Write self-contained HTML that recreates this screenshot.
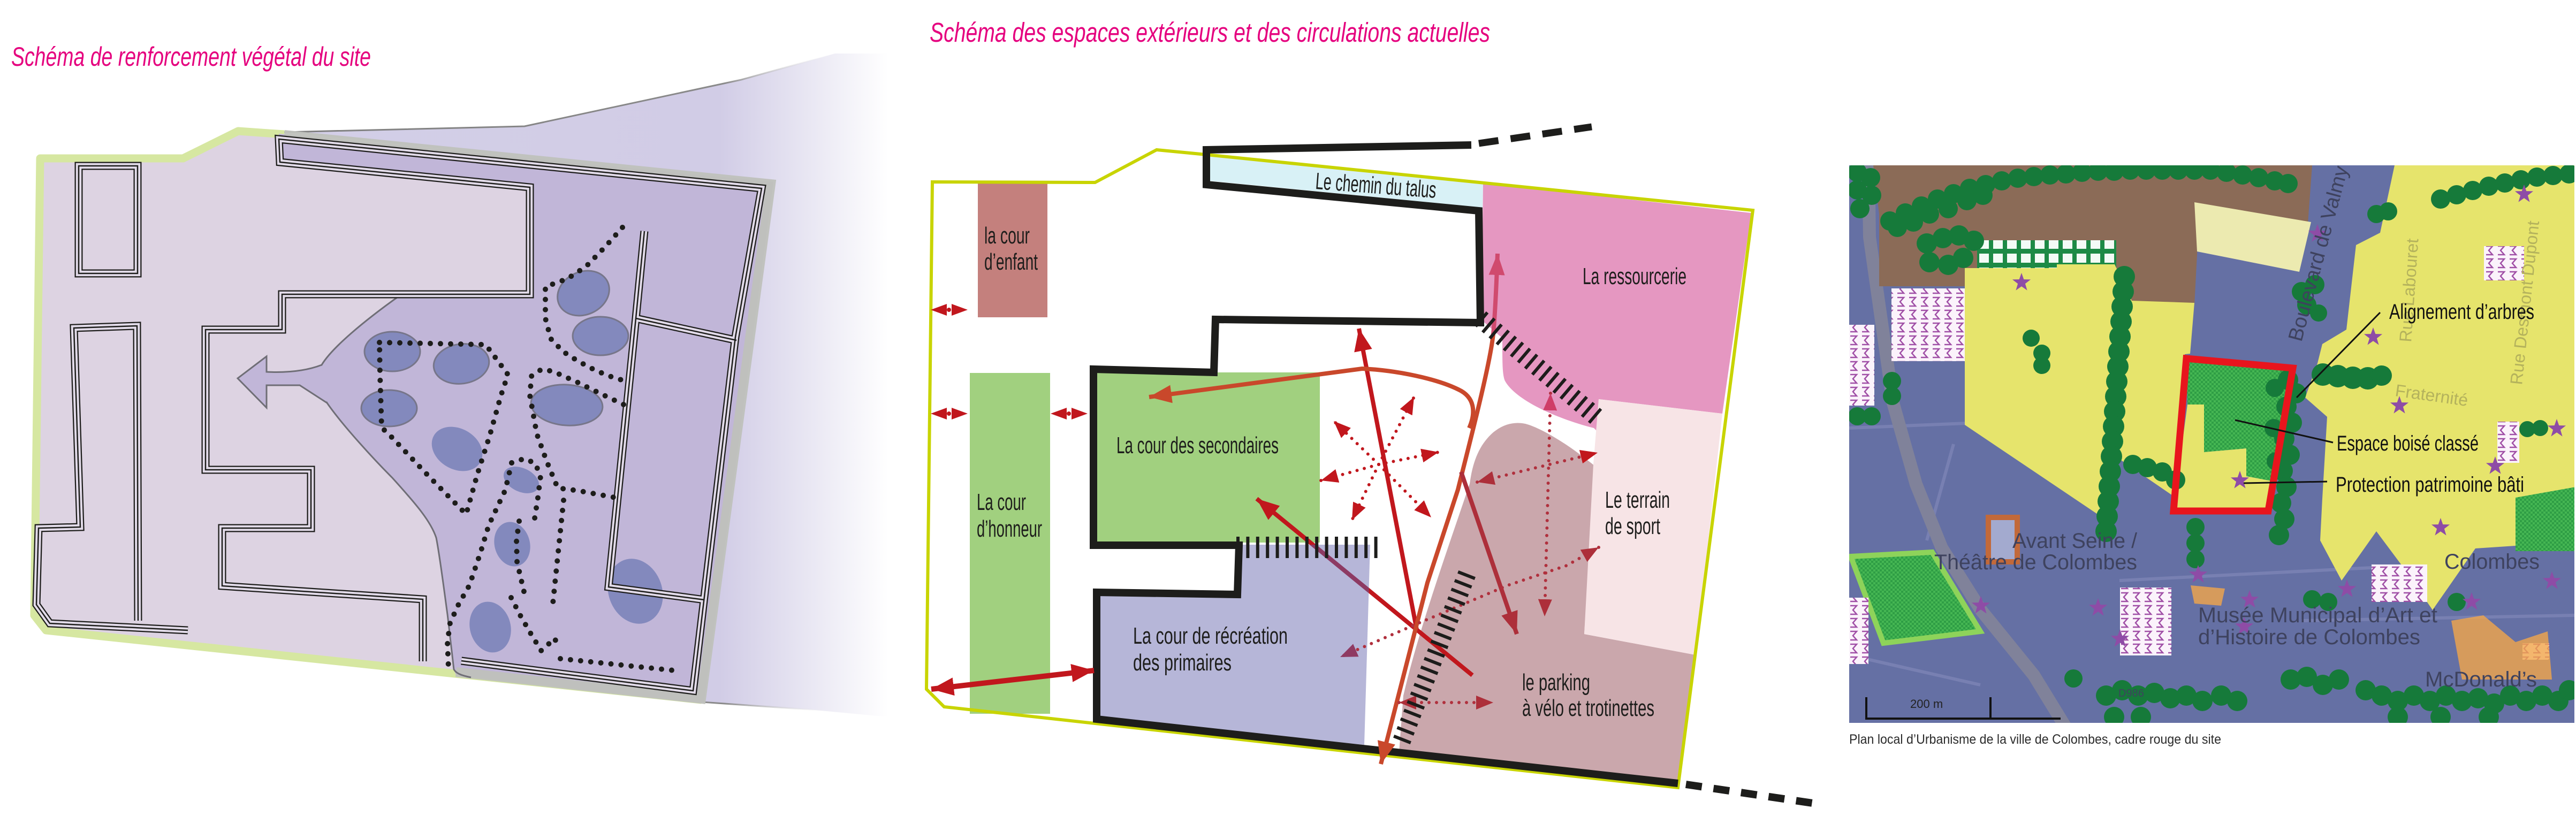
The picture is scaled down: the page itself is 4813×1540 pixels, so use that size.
<!DOCTYPE html>
<html><head><meta charset="utf-8"><style>
html,body{margin:0;padding:0;background:#fff;}
body{width:4813px;height:1540px;overflow:hidden;}
svg{display:block;}
</style></head><body>
<svg xmlns="http://www.w3.org/2000/svg" xmlns:xlink="http://www.w3.org/1999/xlink" width="4813" height="1540" viewBox="0 0 4813 1540">
<defs>
<linearGradient id="fade" gradientUnits="userSpaceOnUse" x1="531" y1="0" x2="1660" y2="0">
<stop offset="0" stop-color="#d3cfe7"/><stop offset="0.72" stop-color="#d1cce6"/><stop offset="0.87" stop-color="#e9e7f3"/><stop offset="1" stop-color="#ffffff"/></linearGradient>
<linearGradient id="fadeS" gradientUnits="userSpaceOnUse" x1="531" y1="0" x2="1560" y2="0">
<stop offset="0" stop-color="#808080"/><stop offset="0.8" stop-color="#8a8a8a"/><stop offset="1" stop-color="#ffffff" stop-opacity="0"/></linearGradient>
<path id="w1" d="M862,1235 L1295,1291 L1374,630 L1423,352 L521,260 L523,303 L990,350 L990,550 L527,550 L527,616 L384,616 L384,878 L581,878 L581,987 L415,987 L415,1095 L790,1120 L790,1236"/>
<path id="w2" d="M258,1160 L256,609 L138,613 L150,985 L72,987 L68,1130 L93,1165 L351,1178"/>
<path id="w3" d="M147,310 H257 V511 H147 Z"/>
<path id="w4" d="M1204,432 L1188,595 L1137,1097 L1316,1121"/>
<path id="w5" d="M1188,595 L1376,636"/>
<marker id="mR" viewBox="0 0 10 10" refX="10" refY="5" markerWidth="42" markerHeight="34" markerUnits="userSpaceOnUse" orient="auto-start-reverse" preserveAspectRatio="none"><path d="M0,0L10,5L0,10z" fill="#c1171d"/></marker>
<marker id="mO" viewBox="0 0 10 10" refX="10" refY="5" markerWidth="42" markerHeight="34" markerUnits="userSpaceOnUse" orient="auto-start-reverse" preserveAspectRatio="none"><path d="M0,0L10,5L0,10z" fill="#c9482b"/></marker>
<marker id="mD" viewBox="0 0 10 10" refX="10" refY="5" markerWidth="42" markerHeight="32" markerUnits="userSpaceOnUse" orient="auto-start-reverse" preserveAspectRatio="none"><path d="M0,0L10,5L0,10z" fill="#ad2f3a"/></marker>
<marker id="mP" viewBox="0 0 10 10" refX="10" refY="5" markerWidth="40" markerHeight="30" markerUnits="userSpaceOnUse" orient="auto-start-reverse" preserveAspectRatio="none"><path d="M0,0L10,5L0,10z" fill="#d04a6e"/></marker>
<marker id="mRs" viewBox="0 0 10 10" refX="10" refY="5" markerWidth="32" markerHeight="26" markerUnits="userSpaceOnUse" orient="auto-start-reverse" preserveAspectRatio="none"><path d="M0,0L10,5L0,10z" fill="#c1171d"/></marker>
<marker id="mDs" viewBox="0 0 10 10" refX="10" refY="5" markerWidth="32" markerHeight="26" markerUnits="userSpaceOnUse" orient="auto-start-reverse" preserveAspectRatio="none"><path d="M0,0L10,5L0,10z" fill="#ad2f3a"/></marker>
<marker id="mPs" viewBox="0 0 10 10" refX="10" refY="5" markerWidth="32" markerHeight="26" markerUnits="userSpaceOnUse" orient="auto-start-reverse" preserveAspectRatio="none"><path d="M0,0L10,5L0,10z" fill="#cf3d68"/></marker>
<marker id="mVs" viewBox="0 0 10 10" refX="10" refY="5" markerWidth="32" markerHeight="26" markerUnits="userSpaceOnUse" orient="auto-start-reverse" preserveAspectRatio="none"><path d="M0,0L10,5L0,10z" fill="#8f3a62"/></marker>
<clipPath id="cBlue"><polygon points="2049,1113 2312,1113 2312,1018 2560,1018 2549,1392 2049,1344"/></clipPath>
<clipPath id="mapClip"><rect x="3455" y="309" width="1355" height="1042"/></clipPath>
<pattern id="chk" width="8" height="8" patternUnits="userSpaceOnUse"><rect width="8" height="8" fill="#45b653"/><rect width="4" height="4" fill="#2f9e45"/><rect x="4" y="4" width="4" height="4" fill="#2f9e45"/></pattern>
<pattern id="zz" width="22" height="24" patternUnits="userSpaceOnUse"><rect width="22" height="24" fill="#fbf3fb"/><path d="M3,4 H15 L8,12 L15,20 H3" fill="none" stroke="#a04fa6" stroke-width="2.5"/></pattern>
<pattern id="grd" width="26" height="26" patternUnits="userSpaceOnUse"><rect width="26" height="26" fill="#1d8a46"/><rect x="6" y="6" width="18" height="17" fill="#f3fbf6"/></pattern>
<path id="st" d="M0,-18 L4.3,-5.9 L17.1,-5.6 L6.9,2.3 L10.6,14.6 L0,7.3 L-10.6,14.6 L-6.9,2.3 L-17.1,-5.6 L-4.3,-5.9 Z" fill="#8e4ca6"/>
</defs>

<!-- ================= LEFT DIAGRAM ================= -->
<text x="21" y="123" font-family="Liberation Sans, sans-serif" font-style="italic" font-size="50" fill="#e5007e" textLength="672" lengthAdjust="spacingAndGlyphs">Schéma de renforcement végétal du site</text>

<polygon points="531,247 980,236 1385,149 1560,100 1660,100 1660,1340 1523,1327 1311,1312 1440,343" fill="url(#fade)"/>
<polyline points="531,247 980,236 1385,149 1550,103" fill="none" stroke="url(#fadeS)" stroke-width="3"/>
<polyline points="1311,1312 1523,1327 1560,1329" fill="none" stroke="url(#fadeS)" stroke-width="3"/>

<polygon points="75,296 342,296 445,245 531,251 1440,343 1311,1308 86,1178 64,1150" fill="#ddd3e2"/>
<path d="M531,251 L445,245 L342,296 L75,296 L64,1150 L86,1178 L1311,1308" fill="none" stroke="#d6e7a1" stroke-width="15" stroke-linejoin="round"/>

<path d="M521,250 L1445,340 L1315,1314 L852,1262 L848,1251 L836,1148 C832,1120 822,1040 815,1005 C805,975 780,945 733,893 C700,860 640,795 611,753 C586,712 586,700 601,682 C620,650 680,600 746,553 L990,553 L990,350 L523,303 Z" fill="#c1b6d8"/>
<path d="M531,252 L1440,344 L1310,1306 L852,1256" fill="none" stroke="#bfc1bc" stroke-width="18" stroke-linejoin="miter" opacity="0.95"/>
<path d="M746,553 C680,600 620,650 601,682 C586,700 586,712 611,753 C640,795 700,860 733,893 C780,945 805,975 815,1005 C822,1040 832,1120 836,1148 L848,1251 C852,1258 860,1262 880,1266" fill="none" stroke="#6f6e76" stroke-width="3"/>
<path d="M601,682 C575,692 540,697 498,695 L498,666 L444,707 L498,762 L498,720 L560,720 L611,753 Z" fill="#c1b6d8"/>
<path d="M601,682 C575,692 540,697 498,695 L498,666 L444,707 L498,762 L498,720 L560,720 L611,753" fill="none" stroke="#6f6e76" stroke-width="3" stroke-linejoin="miter"/>

<g fill="#5a6bac" fill-opacity="0.6">
<ellipse cx="733" cy="657" rx="52" ry="37" stroke="#77768a" stroke-width="3" stroke-opacity="1"/>
<ellipse cx="862" cy="680" rx="52" ry="37" transform="rotate(-8 862 680)" stroke="#77768a" stroke-width="3"/>
<ellipse cx="727" cy="763" rx="52" ry="34" stroke="#77768a" stroke-width="3"/>
<ellipse cx="854" cy="839" rx="50" ry="38" transform="rotate(30 854 839)"/>
<ellipse cx="1090" cy="548" rx="50" ry="40" transform="rotate(-25 1090 548)" stroke="#77768a" stroke-width="3"/>
<ellipse cx="1122" cy="628" rx="52" ry="36" stroke="#77768a" stroke-width="3"/>
<ellipse cx="1059" cy="757" rx="67" ry="38" transform="rotate(4 1059 757)" stroke="#77768a" stroke-width="3"/>
<ellipse cx="974" cy="897" rx="35" ry="22" transform="rotate(25 974 897)"/>
<ellipse cx="957" cy="1017" rx="33" ry="42" transform="rotate(-15 957 1017)"/>
<ellipse cx="916" cy="1172" rx="38" ry="48" transform="rotate(-15 916 1172)"/>
<ellipse cx="1187" cy="1105" rx="50" ry="62" transform="rotate(-20 1187 1105)"/>
</g>

<g fill="none" stroke-linejoin="miter">
<g stroke="#1d1d1b" stroke-width="15"><use href="#w1"/><use href="#w2"/><use href="#w3"/><use href="#w4"/><use href="#w5"/></g>
<g stroke="#e2dbe9" stroke-width="10.5"><use href="#w1"/><use href="#w2"/><use href="#w3"/><use href="#w4"/><use href="#w5"/></g>
<g stroke="#1d1d1b" stroke-width="2.5"><use href="#w1"/><use href="#w2"/><use href="#w3"/><use href="#w4"/><use href="#w5"/></g>
</g>

<g fill="none" stroke="#1d1d1b" stroke-width="10" stroke-linecap="round" stroke-linejoin="round" stroke-dasharray="0 19">
<path d="M1163,425 L1130,462 L1095,498 L1060,521 L1019,536 L1019,595 L1029,633 L1052,657 L1080,675 L1114,693 L1147,706 L1165,711"/>
<path d="M1165,756 L1129,739 L1080,715 L1033,694 L1012,690 L993,703 L990,739 L1003,811 L1021,861 L1042,912 L1080,917 L1150,930"/>
<path d="M709,640 L758,641 L907,644 L918,658 L949,700 L936,739 L915,814 L892,886 L871,961 L856,946 L802,891 L728,813 L713,799 L710,700 Z"/>
<path d="M956,865 L944,916 L913,982 L898,1032 L877,1094 L857,1129 L841,1164 L836,1200 L838,1250"/>
<path d="M956,865 L980,857 L1000,866 L1010,890 L1005,930 L998,975"/>
<path d="M970,974 L965,1010 L966,1050 L980,1110"/>
<path d="M955,1117 L972,1150 L991,1183 L1011,1216 L1037,1193 L1042,1214"/>
<path d="M1047,1231 L1269,1254"/>
<path d="M1053,935 L1032,1137"/>
</g>

<!-- ================= MIDDLE DIAGRAM ================= -->
<text x="1737" y="78" font-family="Liberation Sans, sans-serif" font-style="italic" font-size="51" fill="#e5007e" textLength="1047" lengthAdjust="spacingAndGlyphs">Schéma des espaces extérieurs et des circulations actuelles</text>

<!-- regions -->
<polygon points="2261,288 2771,342 2770,388 2261,338" fill="#d8f1f6"/>
<path d="M2771,342 L3272,398 L3218,773 L2987,746 L2983,805 L2978,800 C2900,780 2830,745 2812,712 C2807,700 2807,680 2807,632 L2768,598 Z" fill="#e597c1"/>
<path d="M2746,904 C2752,860 2765,830 2790,808 C2810,792 2830,788 2850,792 C2880,800 2930,830 2981,872 L2960,1185 L3168,1224 L3138,1466 L2614,1406 L2622,1300 C2650,1180 2700,1040 2746,904 Z" fill="#caa7ac"/>
<polygon points="2987,746 3218,773 3168,1224 2960,1185 2977,868" fill="#f7e4e6"/>
<rect x="1827" y="340" width="130" height="253" fill="#c4807d"/>
<rect x="1812" y="697" width="150" height="637" fill="#a1d07f"/>
<rect x="2049" y="696" width="417" height="318" fill="#a1d07f"/>

<!-- red arrow under blue -->
<path d="M2751,1262 L2348,932" fill="none" stroke="#c1171d" stroke-width="8" marker-end="url(#mR)"/>
<polygon points="2049,1113 2312,1113 2312,1018 2560,1018 2549,1392 2049,1344" fill="#b6b6d8"/>
<path d="M2751,1262 L2348,932" fill="none" stroke="#8d3a63" stroke-width="8" clip-path="url(#cBlue)"/>

<!-- yellow border -->
<path d="M1742,340 L2046,341 L2161,280 L2254,289 L3275,393 L3135,1472 L1764,1321 L1731,1288 Z" fill="none" stroke="#c8d400" stroke-width="6" stroke-linejoin="miter"/>

<!-- black outline -->
<path d="M2749,271 L2254,280 L2254,345 L2763,394 L2766,603 L2271,597 L2268,696 L2043,690 L2043,1019 L2315,1019 L2312,1111 L2049,1107 L2049,1344 L3135,1464" fill="none" stroke="#1d1d1b" stroke-width="14" stroke-linejoin="miter"/>
<path d="M2763,268 L2974,237" fill="none" stroke="#1d1d1b" stroke-width="13" stroke-dasharray="37 23"/>
<path d="M3150,1466 L3400,1503" fill="none" stroke="#1d1d1b" stroke-width="14" stroke-dasharray="30 22"/>

<!-- arrows -->
<path d="M2648,1182 L2539,614" fill="none" stroke="#c1171d" stroke-width="8" marker-end="url(#mR)"/>
<path d="M2580,1428 L2667,1089 L2724,915 C2740,850 2785,680 2790,623" fill="none" stroke="#c9482b" stroke-width="8" marker-start="url(#mO)"/>
<path d="M2790,625 C2794,580 2796,530 2798,474" fill="none" stroke="#d04a6e" stroke-width="8" marker-end="url(#mP)"/>
<path d="M2745,800 C2758,770 2755,742 2725,728 C2685,708 2610,692 2545,689 L2147,742" fill="none" stroke="#c9482b" stroke-width="8" marker-end="url(#mO)"/>
<path d="M2730,882 L2834,1185" fill="none" stroke="#ad2f3a" stroke-width="8" marker-end="url(#mD)"/>
<path d="M1740,1288 L2044,1253" fill="none" stroke="#c1171d" stroke-width="10" marker-start="url(#mR)" marker-end="url(#mR)"/>

<g fill="#c1171d">
<polygon points="1739,579 1769,568 1769,590"/><polygon points="1808,579 1778,568 1778,590"/><circle cx="1773" cy="579" r="4"/>
<polygon points="1739,773 1769,762 1769,784"/><polygon points="1808,773 1778,762 1778,784"/><circle cx="1773" cy="773" r="4"/>
<polygon points="1963,773 1993,762 1993,784"/><polygon points="2032,773 2002,762 2002,784"/><circle cx="1997" cy="773" r="4"/>
</g>

<g fill="none" stroke="#c1171d" stroke-width="6" stroke-linecap="round" stroke-dasharray="0 14">
<path d="M2576,868 L2642,742" marker-end="url(#mRs)"/>
<path d="M2576,868 L2688,845" marker-end="url(#mRs)"/>
<path d="M2576,868 L2674,967" marker-end="url(#mRs)"/>
<path d="M2576,868 L2526,972" marker-end="url(#mRs)"/>
<path d="M2576,868 L2468,898" marker-end="url(#mRs)"/>
<path d="M2576,868 L2492,787" marker-end="url(#mRs)"/>
</g>
<g fill="none" stroke="#b0303d" stroke-width="6" stroke-linecap="round" stroke-dasharray="0 14">
<path d="M2897,735 L2886,1152" marker-start="url(#mPs)" marker-end="url(#mDs)"/>
<path d="M2760,901 L2985,846" marker-start="url(#mDs)" marker-end="url(#mRs)"/>
<path d="M2987,1023 L2927,1057 L2817,1094 L2652,1164 L2504,1228" marker-start="url(#mDs)" marker-end="url(#mVs)"/>
<path d="M2614,1313 L2790,1313" marker-start="url(#mDs)" marker-end="url(#mDs)"/>
</g>

<!-- hatches -->
<path d="M2310,1023 L2576,1023" fill="none" stroke="#1d1d1b" stroke-width="40" stroke-dasharray="6 12.4"/>
<path d="M2765.7,595 L2982.3,779" fill="none" stroke="#1d1d1b" stroke-width="34" stroke-dasharray="6 11.4"/>
<path d="M2741.1,1072.2 L2618.9,1384.8" fill="none" stroke="#1d1d1b" stroke-width="34" stroke-dasharray="6 11.35"/>

<!-- labels -->
<g font-family="Liberation Sans, sans-serif" font-size="44" fill="#1d1d1b" lengthAdjust="spacingAndGlyphs">
<text x="2457" y="353" transform="rotate(4.3 2457 353)" textLength="226" lengthAdjust="spacingAndGlyphs">Le chemin du talus</text>
<text x="1839" y="455" textLength="85" lengthAdjust="spacingAndGlyphs">la cour</text>
<text x="1839" y="504" textLength="100" lengthAdjust="spacingAndGlyphs">d’enfant</text>
<text x="1825" y="953" textLength="92" lengthAdjust="spacingAndGlyphs">La cour</text>
<text x="1825" y="1003" textLength="122" lengthAdjust="spacingAndGlyphs">d’honneur</text>
<text x="2086" y="847" textLength="303" lengthAdjust="spacingAndGlyphs">La cour des secondaires</text>
<text x="2117" y="1203" textLength="289" lengthAdjust="spacingAndGlyphs">La cour de récréation</text>
<text x="2117" y="1253" textLength="184" lengthAdjust="spacingAndGlyphs">des primaires</text>
<text x="2957" y="531" textLength="194" lengthAdjust="spacingAndGlyphs">La ressourcerie</text>
<text x="2999" y="949" textLength="121" lengthAdjust="spacingAndGlyphs">Le terrain</text>
<text x="2999" y="998" textLength="103" lengthAdjust="spacingAndGlyphs">de sport</text>
<text x="2844" y="1290" textLength="127" lengthAdjust="spacingAndGlyphs">le parking</text>
<text x="2844" y="1338" textLength="247" lengthAdjust="spacingAndGlyphs">à vélo et trotinettes</text>
</g>

<!-- ================= MAP ================= -->
<g clip-path="url(#mapClip)">
<rect x="3455" y="309" width="1355" height="1042" fill="#6570a4"/>
<g fill="none" stroke="#7880b2" stroke-width="6">
<path d="M3455,800 L3700,790"/><path d="M3650,830 L3600,1010"/><path d="M3960,1085 L4450,1060"/><path d="M3480,1230 L3700,1280"/><path d="M4300,1160 L4810,1150"/>
</g>
<path d="M3491,300 L3493,443 L3537,753 L3580,905 L3628,1024 L3701,1140 L3800,1262 L3860,1360" fill="none" stroke="#80829a" stroke-width="24"/>
<polygon points="3500,309 4320,309 4312,418 4260,418 4110,382 4100,570 3950,565 3950,497 3700,497 3690,535 3511,535 3511,400" fill="#8b6b57"/>
<polygon points="4100,378 4318,415 4296,508 4105,470" fill="#eceab0"/>
<rect x="3694" y="449" width="260" height="52" fill="url(#grd)"/>
<polygon points="3671,501 3843,501 3843,494 3951,494 3983,562 4100,566 4092,661 4082,662 4062,928 3960,858 3925,965 3671,794" fill="#e6e46c"/>
<polygon points="4474,309 4813,309 4813,925 4750,925 4700,1020 4625,1025 4545,1140 4490,1060 4440,993 4375,1085 4335,1010 4339,932 4348,779 4307,743 4330,679 4339,643 4384,616 4402,458 4447,435" fill="#e6e46c"/>
<polygon points="4085,670 4285,688 4250,900 4197,890 4197,838 4118,845 4118,756 4087,756" fill="url(#chk)"/>
<polygon points="4087,756 4118,756 4118,845 4197,838 4197,890 4250,900 4240,957 4060,957" fill="#e6e46c"/>
<polygon points="4700,930 4813,910 4813,1030 4700,1030" fill="url(#chk)"/>
<polygon points="3458,1040 3610,1032 3700,1180 3519,1202" fill="url(#chk)" stroke="#8ed35a" stroke-width="10"/>
<g fill="url(#zz)">
<rect x="3534" y="539" width="137" height="136"/><rect x="3455" y="607" width="47" height="151"/>
<rect x="4641" y="460" width="75" height="64"/><rect x="4666" y="788" width="41" height="77"/>
<rect x="3961" y="1098" width="96" height="127"/><rect x="4431" y="1055" width="104" height="70"/>
<rect x="3455" y="1117" width="36" height="124"/><rect x="4713" y="1202" width="50" height="31"/>
</g>
<rect x="3715" y="967" width="54" height="83" fill="#a3aacf" stroke="#c2693a" stroke-width="10"/>
<polygon points="4580,1160 4640,1150 4700,1200 4760,1180 4768,1270 4600,1270" fill="#f3a64a" opacity="0.8"/>
<polygon points="4093,1094 4157,1100 4150,1132 4100,1128" fill="#f3a64a" opacity="0.8"/>
<g fill="#167a3a">
<circle cx="3531" cy="413" r="18"/><circle cx="3560" cy="398" r="18"/><circle cx="3590" cy="385" r="18"/><circle cx="3620" cy="372" r="18"/><circle cx="3650" cy="362" r="18"/><circle cx="3680" cy="352" r="18"/><circle cx="3710" cy="345" r="18"/><circle cx="3740" cy="338" r="18"/><circle cx="3770" cy="333" r="18"/><circle cx="3800" cy="330" r="18"/><circle cx="3830" cy="327" r="18"/><circle cx="3860" cy="325" r="18"/><circle cx="3890" cy="322" r="18"/><circle cx="3920" cy="320" r="18"/><circle cx="3950" cy="320" r="18"/><circle cx="3980" cy="318" r="18"/><circle cx="4010" cy="318" r="18"/><circle cx="4040" cy="318" r="18"/><circle cx="4070" cy="318" r="18"/><circle cx="4100" cy="318" r="18"/><circle cx="4130" cy="318" r="18"/><circle cx="4160" cy="322" r="18"/><circle cx="4190" cy="327" r="18"/><circle cx="4220" cy="332" r="18"/><circle cx="4250" cy="338" r="18"/><circle cx="4275" cy="343" r="18"/>
<circle cx="3545" cy="425" r="18"/><circle cx="3575" cy="415" r="18"/><circle cx="3605" cy="400" r="18"/><circle cx="3640" cy="390" r="18"/><circle cx="3675" cy="375" r="18"/><circle cx="3705" cy="365" r="18"/>
<circle cx="3470" cy="322" r="18"/><circle cx="3495" cy="332" r="18"/><circle cx="3470" cy="355" r="18"/><circle cx="3497" cy="365" r="18"/><circle cx="3475" cy="390" r="18"/>
<circle cx="3600" cy="455" r="19"/><circle cx="3630" cy="445" r="19"/><circle cx="3660" cy="440" r="19"/><circle cx="3688" cy="450" r="19"/><circle cx="3605" cy="490" r="19"/><circle cx="3640" cy="495" r="19"/><circle cx="3668" cy="482" r="19"/>
<circle cx="3969" cy="517" r="20"/><circle cx="3967" cy="545" r="20"/><circle cx="3965" cy="573" r="20"/><circle cx="3963" cy="601" r="20"/><circle cx="3961" cy="629" r="20"/><circle cx="3959" cy="657" r="20"/><circle cx="3957" cy="685" r="20"/><circle cx="3955" cy="713" r="20"/><circle cx="3953" cy="741" r="20"/><circle cx="3951" cy="769" r="20"/><circle cx="3949" cy="797" r="20"/><circle cx="3947" cy="825" r="20"/><circle cx="3945" cy="853" r="20"/><circle cx="3943" cy="881" r="20"/><circle cx="3941" cy="909" r="20"/><circle cx="3939" cy="937" r="20"/><circle cx="3937" cy="965" r="20"/><circle cx="3935" cy="993" r="20"/>
<circle cx="3795" cy="632" r="16"/><circle cx="3815" cy="660" r="16"/><circle cx="3815" cy="683" r="16"/>
<circle cx="3535" cy="712" r="17"/><circle cx="3535" cy="740" r="17"/><circle cx="3470" cy="778" r="17"/><circle cx="3497" cy="778" r="17"/>
<circle cx="3985" cy="868" r="18"/><circle cx="4012" cy="874" r="18"/><circle cx="4040" cy="882" r="18"/><circle cx="4065" cy="897" r="18"/>
<circle cx="4275" cy="710" r="19"/><circle cx="4290" cy="735" r="19"/><circle cx="4272" cy="760" r="19"/><circle cx="4282" cy="790" r="19"/><circle cx="4268" cy="820" r="19"/><circle cx="4278" cy="850" r="19"/><circle cx="4265" cy="880" r="19"/><circle cx="4272" cy="910" r="19"/><circle cx="4262" cy="940" r="19"/><circle cx="4268" cy="970" r="19"/><circle cx="4258" cy="1000" r="19"/><circle cx="4250" cy="725" r="17"/><circle cx="4248" cy="800" r="17"/><circle cx="4252" cy="862" r="17"/>
<circle cx="4340" cy="700" r="21"/><circle cx="4368" cy="703" r="21"/><circle cx="4396" cy="706" r="21"/><circle cx="4424" cy="707" r="21"/><circle cx="4450" cy="702" r="19"/>
<circle cx="4300" cy="545" r="18"/><circle cx="4325" cy="532" r="18"/><circle cx="4310" cy="570" r="18"/><circle cx="4332" cy="585" r="16"/>
<circle cx="4440" cy="400" r="17"/><circle cx="4462" cy="395" r="17"/>
<circle cx="4560" cy="372" r="18"/><circle cx="4590" cy="364" r="18"/><circle cx="4620" cy="356" r="18"/><circle cx="4650" cy="348" r="18"/><circle cx="4680" cy="342" r="18"/><circle cx="4710" cy="336" r="18"/><circle cx="4740" cy="331" r="18"/><circle cx="4770" cy="328" r="18"/><circle cx="4800" cy="325" r="18"/>
<circle cx="4722" cy="802" r="15"/><circle cx="4746" cy="800" r="15"/>
<circle cx="4102" cy="985" r="17"/><circle cx="4102" cy="1015" r="17"/><circle cx="4102" cy="1045" r="17"/>
<circle cx="3874" cy="1268" r="17"/><circle cx="3935" cy="1300" r="19"/><circle cx="3965" cy="1290" r="19"/><circle cx="3995" cy="1300" r="19"/><circle cx="4025" cy="1295" r="19"/><circle cx="4055" cy="1305" r="19"/><circle cx="4085" cy="1300" r="19"/><circle cx="4115" cy="1310" r="19"/><circle cx="4150" cy="1300" r="19"/><circle cx="4180" cy="1310" r="19"/><circle cx="4280" cy="1270" r="19"/><circle cx="4310" cy="1265" r="19"/><circle cx="4340" cy="1280" r="19"/><circle cx="4370" cy="1270" r="19"/><circle cx="4420" cy="1290" r="19"/><circle cx="4450" cy="1300" r="19"/><circle cx="4480" cy="1310" r="19"/><circle cx="4510" cy="1300" r="19"/><circle cx="4540" cy="1310" r="19"/><circle cx="4570" cy="1300" r="19"/><circle cx="4600" cy="1310" r="19"/><circle cx="4630" cy="1305" r="19"/><circle cx="4660" cy="1315" r="19"/><circle cx="4690" cy="1300" r="19"/><circle cx="4720" cy="1310" r="19"/><circle cx="4750" cy="1300" r="19"/><circle cx="4780" cy="1310" r="19"/><circle cx="4800" cy="1290" r="19"/><circle cx="4320" cy="1120" r="17"/><circle cx="4350" cy="1125" r="17"/><circle cx="4590" cy="1125" r="17"/><circle cx="3950" cy="1340" r="19"/><circle cx="4000" cy="1340" r="19"/><circle cx="4480" cy="1340" r="19"/><circle cx="4560" cy="1340" r="19"/><circle cx="4650" cy="1340" r="19"/>
</g>
<g>
<use href="#st" x="3777" y="528"/><use href="#st" x="4434" y="630"/><use href="#st" x="4483" y="758"/><use href="#st" x="4716" y="363"/><use href="#st" x="4777" y="801"/><use href="#st" x="4662" y="871"/><use href="#st" x="4560" y="986"/><use href="#st" x="4185" y="898"/><use href="#st" x="3701" y="1132"/><use href="#st" x="3920" y="1136"/><use href="#st" x="3961" y="1194"/><use href="#st" x="4107" y="1074"/><use href="#st" x="4203" y="1121"/><use href="#st" x="4193" y="1171"/><use href="#st" x="4385" y="1101"/><use href="#st" x="4618" y="1125"/><use href="#st" x="4768" y="1086"/><use href="#st" x="4330" y="437"/>
</g>
<polygon points="4085,670 4284,688 4238,955 4061,955" fill="none" stroke="#e8151d" stroke-width="13" stroke-linejoin="miter"/>
<g font-family="Liberation Sans, sans-serif" fill="#3e425e">
<text x="3760" y="1024" font-size="40" textLength="233" lengthAdjust="spacingAndGlyphs">Avant Seine /</text>
<text x="3614" y="1064" font-size="40" textLength="379" lengthAdjust="spacingAndGlyphs">Théâtre de Colombes</text>
<text x="4107" y="1163" font-size="40" textLength="447" lengthAdjust="spacingAndGlyphs">Musée Municipal d’Art et</text>
<text x="4107" y="1204" font-size="40" textLength="415" lengthAdjust="spacingAndGlyphs">d’Histoire de Colombes</text>
<text x="4531" y="1283" font-size="40" textLength="209" lengthAdjust="spacingAndGlyphs">McDonald’s</text>
<text x="4567" y="1063" font-size="40" textLength="178" lengthAdjust="spacingAndGlyphs">Colombes</text>
<text x="3958" y="1302" font-size="20">D986</text>
<text x="4300" y="640" font-size="38" transform="rotate(-75 4300 640)">Boulevard de Valmy</text>
</g>
<g font-family="Liberation Sans, sans-serif" fill="#b4b25c" font-size="32">
<text x="4505" y="640" transform="rotate(-86 4505 640)">Rue Labouret</text>
<text x="4712" y="720" transform="rotate(-84 4712 720)">Rue Desmont Dupont</text>
<text x="4474" y="740" transform="rotate(8 4474 740)">Fraternité</text>
</g>
<g stroke="#111" stroke-width="4" fill="none">
<path d="M3487,1303 V1343 H3850"/><path d="M3719,1303 V1343"/>
</g>
<text x="3569" y="1323" font-family="Liberation Sans, sans-serif" font-size="22" fill="#222">200 m</text>
<g stroke="#111" stroke-width="3" fill="none">
<path d="M4447,584 L4291,743"/><path d="M4359,827 L4176,785"/><path d="M4348,900 L4192,903"/>
</g>
<g font-family="Liberation Sans, sans-serif" font-size="40" fill="#111">
<text x="4464" y="596" textLength="271" lengthAdjust="spacingAndGlyphs">Alignement d’arbres</text>
<text x="4366" y="842" textLength="265" lengthAdjust="spacingAndGlyphs">Espace boisé classé</text>
<text x="4364" y="919" textLength="352" lengthAdjust="spacingAndGlyphs">Protection patrimoine bâti</text>
</g>
</g>
<text x="3455" y="1390" font-family="Liberation Sans, sans-serif" font-size="25" fill="#2b2b2b" textLength="695" lengthAdjust="spacingAndGlyphs">Plan local d’Urbanisme de la ville de Colombes, cadre rouge du site</text>
</svg>
</body></html>
